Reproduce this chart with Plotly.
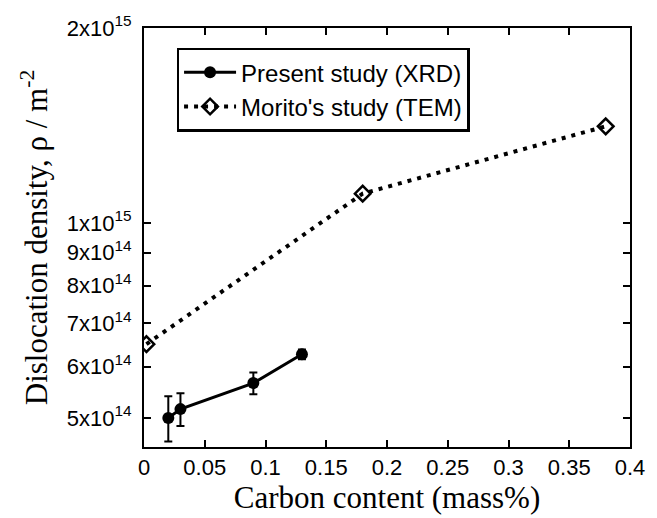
import plotly.graph_objects as go
import numpy as np

# Present study (XRD)
xrd_x = [0.02, 0.03, 0.09, 0.13]
xrd_y = [5.00e14, 5.16e14, 5.66e14, 6.27e14]
xrd_err = [0.40e14, 0.30e14, 0.22e14, 0.11e14]

# Morito's study (TEM)
tem_x = [0.002, 0.18, 0.38]
tem_y = [6.50e14, 1.11e15, 1.41e15]

y_tickvals = [5e14, 6e14, 7e14, 8e14, 9e14, 1e15, 2e15]
y_ticktext = ["5x10<sup>14</sup>", "6x10<sup>14</sup>", "7x10<sup>14</sup>", "8x10<sup>14</sup>",
              "9x10<sup>14</sup>", "1x10<sup>15</sup>", "2x10<sup>15</sup>"]
x_tickvals = [0, 0.05, 0.1, 0.15, 0.2, 0.25, 0.3, 0.35, 0.4]
x_ticktext = ["0", "0.05", "0.1", "0.15", "0.2", "0.25", "0.3", "0.35", "0.4"]

fig = go.Figure()
fig.add_trace(go.Scatter(
    x=xrd_x, y=xrd_y, mode="lines+markers", name="Present study (XRD)",
    line=dict(color="black", width=3),
    marker=dict(symbol="circle", size=12, color="black"),
    error_y=dict(type="data", array=xrd_err, color="black", thickness=2, width=4),
))
fig.add_trace(go.Scatter(
    x=tem_x, y=tem_y, mode="lines+markers", name="Morito's study (TEM)",
    line=dict(color="black", width=4, dash="4px,6px"),
    marker=dict(symbol="diamond-open", size=12, color="black", line=dict(width=2.5, color="black")),
))

axis_common = dict(
    showline=True, linecolor="black", linewidth=2, mirror="ticks",
    ticks="inside", ticklen=7, tickwidth=2, tickcolor="black",
    showgrid=False, zeroline=False,
    tickfont=dict(family="Liberation Sans, Arial", size=22, color="black"),
)

fig.update_layout(
    width=657, height=518,
    margin=dict(l=144, r=17, t=25, b=71),
    paper_bgcolor="white", plot_bgcolor="white",
    showlegend=True,
    legend=dict(
        x=0.067, y=0.953, xanchor="left", yanchor="top",
        bordercolor="black", borderwidth=2.5, bgcolor="white",
        font=dict(family="Liberation Sans, Arial", size=24, color="black"),
        tracegroupgap=0, itemwidth=52,
    ),
    xaxis=dict(
        range=[0, 0.4], tickvals=x_tickvals, ticktext=x_ticktext,
        title=dict(text="Carbon content (mass%)", standoff=2,
                   font=dict(family="Liberation Serif, Times New Roman", size=31, color="black")),
        **axis_common,
    ),
    yaxis=dict(
        type="log", range=[np.log10(4.51e14), np.log10(2e15)],
        tickvals=y_tickvals, ticktext=y_ticktext, ticklabelstandoff=6,
        title=dict(text="Dislocation density, ρ / m<sup>-2</sup>", standoff=10,
                   font=dict(family="Liberation Serif, Times New Roman", size=31, color="black")),
        **axis_common,
    ),
)

fig.write_html("out.html")
